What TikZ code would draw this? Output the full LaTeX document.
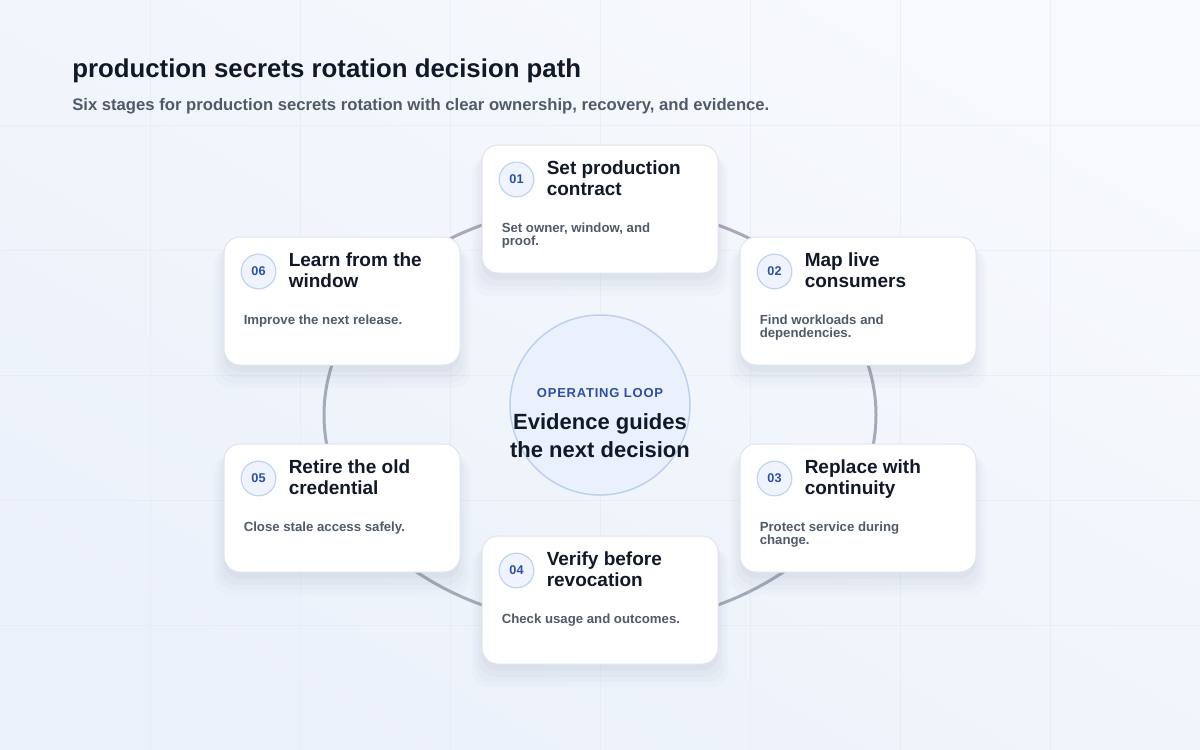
\documentclass[tikz,border=0pt]{standalone}
\usepackage{fontspec}
\setmainfont{Liberation Sans}
\newfontfamily\trackfont[LetterSpace=6]{Liberation Sans}
\usetikzlibrary{shadows}

\definecolor{bgtop}{HTML}{F7F9FC}
\definecolor{bgbot}{HTML}{EBF1FB}
\definecolor{gridc}{HTML}{E3E8F0}
\definecolor{loopc}{HTML}{A4AAB7}
\definecolor{ink}{HTML}{111827}
\definecolor{slate}{HTML}{505A69}
\definecolor{cardline}{HTML}{DFE4EC}
\definecolor{badgefill}{HTML}{EEF3FD}
\definecolor{badgeline}{HTML}{C3D3EF}
\definecolor{badgeink}{HTML}{2D509F}
\definecolor{hubfill}{HTML}{EAF1FC}
\definecolor{hubline}{HTML}{BCCFEE}
\definecolor{shadowc}{HTML}{4A5A7C}

\begin{document}
\begin{tikzpicture}[x=0.75pt,y=-0.75pt,
    stagebox/.style={draw=cardline, line width=0.75pt, fill=white, rounded corners=12pt,
      minimum width=177pt, minimum height=96pt, inner sep=0pt,
      general shadow={fill=shadowc, opacity=0.018, shadow yshift=-12pt, shadow scale=1.09},
      general shadow={fill=shadowc, opacity=0.025, shadow yshift=-10pt, shadow scale=1.06},
      general shadow={fill=shadowc, opacity=0.03, shadow yshift=-8pt, shadow scale=1.03},
      general shadow={fill=shadowc, opacity=0.04, shadow yshift=-5pt, shadow scale=1.0}},
    badge/.style={circle, draw=badgeline, line width=0.9pt, fill=badgefill, minimum size=26pt,
      inner sep=0pt, text=badgeink, font=\bfseries\fontsize{9.5pt}{11pt}\selectfont},
    stagetitle/.style={anchor=north west, inner sep=0pt, align=left, text=ink,
      font=\bfseries\fontsize{14.25pt}{15.75pt}\selectfont},
    stagetext/.style={anchor=north west, inner sep=0pt, align=left, text=slate,
      font=\bfseries\fontsize{9.9pt}{9.9pt}\selectfont}]
      \useasboundingbox (0,0) rectangle (1200,750);
      \shade[top color=bgtop, bottom color=bgbot, shading angle=-30] (0,0) rectangle (1200,750);
      \foreach \gx in {150,300,...,1050} \draw[gridc, opacity=0.5, line width=0.6pt] (\gx,0) -- (\gx,750);
      \foreach \gy in {125,250,...,625} \draw[gridc, opacity=0.5, line width=0.6pt] (0,\gy) -- (1200,\gy);
      %%%%%%%%%%%%%%%%%%%%%%%%%%%%%%%%%%%%%%%%%%%%%%%
      \node[anchor=base west, inner sep=0pt, text=ink, font=\bfseries\fontsize{19.35pt}{23pt}\selectfont] (title) at (72,77) {production secrets rotation decision path};
      \node[anchor=base west, inner sep=0pt, text=slate, font=\bfseries\fontsize{12.5pt}{14pt}\selectfont] (subtitle) at (72,110) {Six stages for production secrets rotation with clear ownership, recovery, and evidence.};
      %%%%%%%%%%%%%%%%%%%%%%%%%%%%%%%%%%%%%%%%%%%%%%%
      \coordinate (loopc) at (600,415);
      \draw[loopc, line width=2.25pt] (loopc) ellipse [x radius=276, y radius=210];
      \node[circle, draw=hubline, line width=1.1pt, fill=hubfill, minimum size=135pt, inner sep=0pt] (hub) at (600,405) {};
      \node[anchor=base, inner sep=0pt, text=badgeink, font=\trackfont\bfseries\fontsize{9.75pt}{11pt}\selectfont] (hubtag) at (600,397) {OPERATING LOOP};
      \node[anchor=north, inner sep=0pt, align=center, text=ink, font=\bfseries\fontsize{16.5pt}{21pt}\selectfont] (hubtext) at (600,413) {Evidence guides\\the next decision};
      %%%%%%%%%%%%%%%%%%%%%%%%%%%%%%%%%%%%%%%%%%%%%%%
      \node[stagebox] (s1) at (600,209) {};
      \node[badge] (b1) at ([shift={(35,35)}]s1.north west) {01};
      \node[stagetitle] (t1) at ([shift={(65,16)}]s1.north west) {Set production\\contract};
      \node[stagetext] (d1) at ([shift={(20,78)}]s1.north west) {Set owner, window, and\\proof.};
      %%%%%%%%%%%%%%%%%%%%%%%%%%%%%%%%%%%%%%%%%%%%%%%
      \node[stagebox] (s2) at (858,301) {};
      \node[badge] (b2) at ([shift={(35,35)}]s2.north west) {02};
      \node[stagetitle] (t2) at ([shift={(65,16)}]s2.north west) {Map live\\consumers};
      \node[stagetext] (d2) at ([shift={(20,78)}]s2.north west) {Find workloads and\\dependencies.};
      %%%%%%%%%%%%%%%%%%%%%%%%%%%%%%%%%%%%%%%%%%%%%%%
      \node[stagebox] (s3) at (858,508) {};
      \node[badge] (b3) at ([shift={(35,35)}]s3.north west) {03};
      \node[stagetitle] (t3) at ([shift={(65,16)}]s3.north west) {Replace with\\continuity};
      \node[stagetext] (d3) at ([shift={(20,78)}]s3.north west) {Protect service during\\change.};
      %%%%%%%%%%%%%%%%%%%%%%%%%%%%%%%%%%%%%%%%%%%%%%%
      \node[stagebox] (s4) at (600,600) {};
      \node[badge] (b4) at ([shift={(35,35)}]s4.north west) {04};
      \node[stagetitle] (t4) at ([shift={(65,16)}]s4.north west) {Verify before\\revocation};
      \node[stagetext] (d4) at ([shift={(20,78)}]s4.north west) {Check usage and outcomes.};
      %%%%%%%%%%%%%%%%%%%%%%%%%%%%%%%%%%%%%%%%%%%%%%%
      \node[stagebox] (s5) at (342,508) {};
      \node[badge] (b5) at ([shift={(35,35)}]s5.north west) {05};
      \node[stagetitle] (t5) at ([shift={(65,16)}]s5.north west) {Retire the old\\credential};
      \node[stagetext] (d5) at ([shift={(20,78)}]s5.north west) {Close stale access safely.};
      %%%%%%%%%%%%%%%%%%%%%%%%%%%%%%%%%%%%%%%%%%%%%%%
      \node[stagebox] (s6) at (342,301) {};
      \node[badge] (b6) at ([shift={(35,35)}]s6.north west) {06};
      \node[stagetitle] (t6) at ([shift={(65,16)}]s6.north west) {Learn from the\\window};
      \node[stagetext] (d6) at ([shift={(20,78)}]s6.north west) {Improve the next release.};
      %%%%%%%%%%%%%%%%%%%%%%%%%%%%%%%%%%%%%%%%%%%%%%%
\end{tikzpicture}
\end{document}
